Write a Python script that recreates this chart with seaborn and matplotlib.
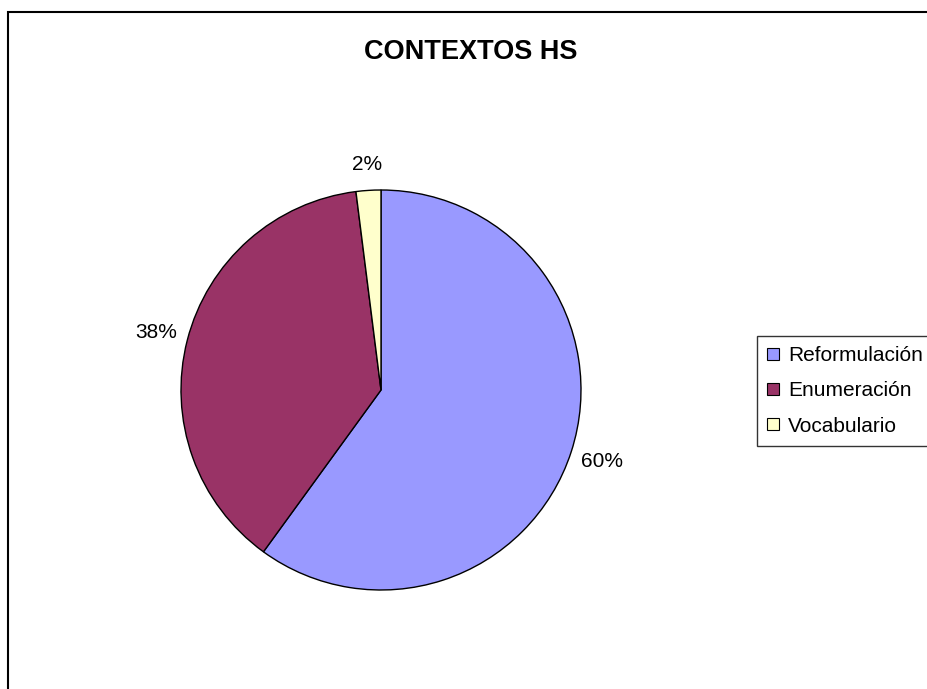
import matplotlib
matplotlib.use("Agg")
import numpy as np
import matplotlib.pyplot as plt
import matplotlib.patches as mpatches
import seaborn as sns

categories = ["Reformulación", "Enumeración", "Vocabulario"]
values = [60, 38, 2]
colors = ["#9999FF", "#993366", "#FFFFCC"]
title = "CONTEXTOS HS"

sns.set_theme(style="white")
plt.rcParams['font.family'] = ['Liberation Sans', 'DejaVu Sans']
plt.rcParams['text.color'] = 'black'

W, H = 927, 689
fig = plt.figure(figsize=(W / 100, H / 100), dpi=100)
ax = fig.add_axes([181 / W, 1 - 590 / H, 400 / W, 400 / H])

palette = sns.color_palette(colors)
wedges, texts, autotexts = ax.pie(
    values, colors=palette, startangle=90, counterclock=False,
    autopct=lambda p: f"{p:.0f}%", pctdistance=1.16,
    wedgeprops=dict(edgecolor="black", linewidth=1.0),
    textprops=dict(fontsize=15, color="black"), radius=1.0)
# small slice label sits slightly closer to the pie
w = wedges[2]
ang = np.deg2rad((w.theta1 + w.theta2) / 2)
autotexts[2].set_position((1.13 * np.cos(ang), 1.13 * np.sin(ang)))
ax.set_xlim(-1, 1)
ax.set_ylim(-1, 1)
ax.set_aspect("equal")
ax.axis("off")

fig.text(471 / W, 1 - 52 / H, title, ha="center", va="center",
         fontsize=19.5, fontweight="bold", color="black")

handles = [mpatches.Patch(facecolor=c, edgecolor="black", linewidth=0.8) for c in colors]
leg = fig.legend(handles, categories, loc="upper left",
                 bbox_to_anchor=(757 / W, 1 - 336 / H), fontsize=15,
                 frameon=True, fancybox=False, handlelength=0.55, handleheight=0.55,
                 handletextpad=0.45, labelspacing=0.77, borderpad=0.5, borderaxespad=0)
leg.get_frame().set_edgecolor("black")
leg.get_frame().set_linewidth(1.0)
for t in leg.get_texts():
    t.set_color("black")

border = mpatches.Rectangle((8 / W, -0.1), 1.2, 1 - 12 / H + 0.1,
                            transform=fig.transFigure, fill=False,
                            edgecolor="black", linewidth=1.5)
fig.patches.append(border)

fig.savefig("out.png", dpi=100)
